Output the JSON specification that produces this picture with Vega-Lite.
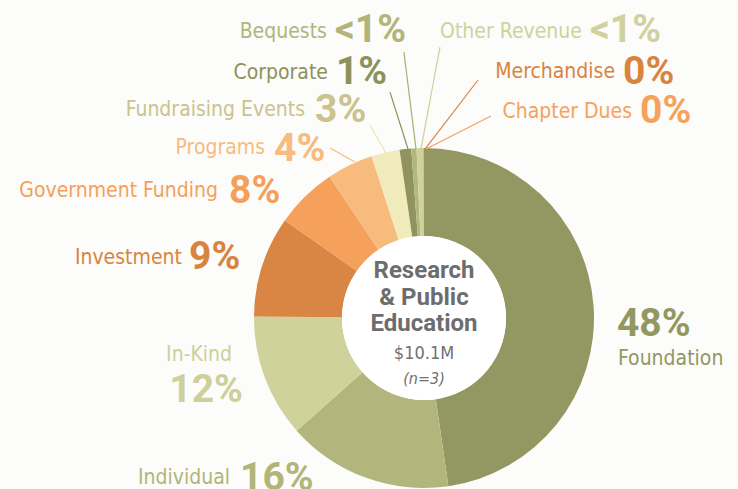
{
  "$schema": "https://vega.github.io/schema/vega-lite/v6.json",
  "width": 738,
  "height": 489,
  "autosize": {"type": "none"},
  "padding": 0,
  "background": "#fcfcfa",
  "config": {"view": {"stroke": null}},
  "datasets": {
    "slices": [
      {"category": "Foundation", "value": 47.8, "rank": 1},
      {"category": "Individual", "value": 15.8, "rank": 2},
      {"category": "In-Kind", "value": 11.7, "rank": 3},
      {"category": "Investment", "value": 9.6, "rank": 4},
      {"category": "Government Funding", "value": 5.9, "rank": 5},
      {"category": "Programs", "value": 4.4, "rank": 6},
      {"category": "Fundraising Events", "value": 2.7, "rank": 7},
      {"category": "Corporate", "value": 1.1, "rank": 8},
      {"category": "Bequests", "value": 0.5, "rank": 9},
      {"category": "Other Revenue", "value": 0.6, "rank": 10},
      {"category": "Merchandise", "value": 0.05, "rank": 11},
      {"category": "Chapter Dues", "value": 0.05, "rank": 12}
    ],
    "leaders": [
      {"category": "Bequests", "x": -11.8, "y": 156.5, "x2": -4.7, "y2": 99.4},
      {"category": "Other Revenue", "x": 9.4, "y": 159.4, "x2": -1.8, "y2": 99.4},
      {"category": "Corporate", "x": -20.0, "y": 132.9, "x2": -9.4, "y2": 99.4},
      {"category": "Fundraising Events", "x": -31.8, "y": 113.5, "x2": -22.4, "y2": 97.1},
      {"category": "Merchandise", "x": 31.8, "y": 140.0, "x2": 0.6, "y2": 99.4},
      {"category": "Chapter Dues", "x": 39.4, "y": 118.8, "x2": 1.2, "y2": 99.4},
      {"category": "Programs", "x": -55.3, "y": 100.0, "x2": -40.6, "y2": 91.8}
    ],
    "texts": [
      {"category": "Bequests", "kind": "name", "anchor": "end", "text": "Bequests", "x": -57.1, "y": 169.4},
      {"category": "Other Revenue", "kind": "name", "anchor": "end", "text": "Other Revenue", "x": 92.9, "y": 169.4},
      {"category": "Corporate", "kind": "name", "anchor": "end", "text": "Corporate", "x": -56.5, "y": 145.3},
      {"category": "Merchandise", "kind": "name", "anchor": "end", "text": "Merchandise", "x": 112.4, "y": 145.6},
      {"category": "Fundraising Events", "kind": "name", "anchor": "end", "text": "Fundraising Events", "x": -70.0, "y": 123.2},
      {"category": "Chapter Dues", "kind": "name", "anchor": "end", "text": "Chapter Dues", "x": 122.4, "y": 122.1},
      {"category": "Programs", "kind": "name", "anchor": "end", "text": "Programs", "x": -93.5, "y": 100.9},
      {"category": "Government Funding", "kind": "name", "anchor": "end", "text": "Government Funding", "x": -121.2, "y": 75.9},
      {"category": "Investment", "kind": "name", "anchor": "end", "text": "Investment", "x": -142.4, "y": 36.2},
      {"category": "In-Kind", "kind": "name", "anchor": "end", "text": "In-Kind", "x": -112.9, "y": -20.9},
      {"category": "Individual", "kind": "name", "anchor": "end", "text": "Individual", "x": -114.1, "y": -93.2},
      {"category": "Foundation", "kind": "name", "anchor": "start", "text": "Foundation", "x": 114.1, "y": -23.2},
      {"category": "Bequests", "kind": "pct", "anchor": "start", "text": "<1%", "x": -52.4, "y": 170.6},
      {"category": "Other Revenue", "kind": "pct", "anchor": "start", "text": "<1%", "x": 97.6, "y": 170.6},
      {"category": "Corporate", "kind": "pct", "anchor": "start", "text": "1%", "x": -51.8, "y": 145.9},
      {"category": "Merchandise", "kind": "pct", "anchor": "start", "text": "0%", "x": 117.1, "y": 145.9},
      {"category": "Fundraising Events", "kind": "pct", "anchor": "start", "text": "3%", "x": -64.1, "y": 123.8},
      {"category": "Chapter Dues", "kind": "pct", "anchor": "start", "text": "0%", "x": 127.1, "y": 122.9},
      {"category": "Programs", "kind": "pct", "anchor": "start", "text": "4%", "x": -88.2, "y": 100.3},
      {"category": "Government Funding", "kind": "pct", "anchor": "start", "text": "8%", "x": -114.7, "y": 75.9},
      {"category": "Investment", "kind": "pct", "anchor": "start", "text": "9%", "x": -138.2, "y": 37.1},
      {"category": "Individual", "kind": "pct", "anchor": "start", "text": "16%", "x": -108.2, "y": -93.2},
      {"category": "Foundation", "kind": "pct", "anchor": "start", "text": "48%", "x": 113.5, "y": -2.6},
      {"category": "In-Kind", "kind": "pct", "anchor": "end", "text": "12%", "x": -106.5, "y": -40.9}
    ],
    "center": [
      {"style": "bold", "text": "Research", "x": 0, "y": 28.8},
      {"style": "bold", "text": "& Public", "x": 0, "y": 12.6},
      {"style": "bold", "text": "Education", "x": 0, "y": -2.6},
      {"style": "amount", "text": "$10.1M", "x": 0, "y": -20.0},
      {"style": "count", "text": "(n=3)", "x": 0, "y": -35.6}
    ]
  },
  "layer": [
    {
      "data": {"name": "slices"},
      "mark": {"type": "arc", "radius": 170, "radius2": 82},
      "encoding": {
        "x": {"datum": 0, "type": "quantitative", "scale": {"domain": [-249.41, 184.71], "nice": false, "zero": false}, "axis": null},
        "y": {"datum": 0, "type": "quantitative", "scale": {"domain": [-100.59, 187.06], "nice": false, "zero": false}, "axis": null},
        "theta": {"field": "value", "type": "quantitative", "stack": true},
        "order": {"field": "rank", "type": "quantitative"},
        "color": {
          "field": "category", "type": "nominal", "legend": null,
          "scale": {
            "domain": ["Foundation", "Individual", "In-Kind", "Investment", "Government Funding", "Programs", "Fundraising Events", "Corporate", "Bequests", "Other Revenue", "Merchandise", "Chapter Dues"],
            "range": ["#939862", "#b3b67c", "#d0d29b", "#d98544", "#f5a05b", "#f8bb7e", "#f1ebbb", "#8f945e", "#b3b77c", "#cfd29b", "#d98544", "#f5a05b"]
          }
        }
      }
    },
    {
      "data": {"values": [{"part": "hole"}]},
      "mark": {"type": "arc", "radius": 82, "theta": 0, "theta2": 6.2832, "fill": "#ffffff"},
      "encoding": {
        "x": {"datum": 0, "type": "quantitative", "axis": null},
        "y": {"datum": 0, "type": "quantitative", "axis": null}
      }
    },
    {
      "data": {"name": "leaders"},
      "mark": {"type": "rule", "strokeWidth": 1.2},
      "encoding": {
        "x": {"field": "x", "type": "quantitative", "axis": null},
        "y": {"field": "y", "type": "quantitative", "axis": null},
        "x2": {"field": "x2"},
        "y2": {"field": "y2"},
        "stroke": {
          "field": "category", "type": "nominal", "legend": null,
          "scale": {
            "domain": ["Bequests", "Other Revenue", "Corporate", "Fundraising Events", "Merchandise", "Chapter Dues", "Programs"],
            "range": ["#a9ae72", "#cdd09a", "#8c925a", "#ece5b2", "#d98544", "#f5a05b", "#f8bb7e"]
          }
        }
      }
    },
    {
      "data": {"name": "texts"},
      "transform": [{"filter": "datum.kind === 'name' && datum.anchor === 'end'"}],
      "mark": {"type": "text", "align": "right", "baseline": "alphabetic", "dy": 7.7, "font": "DejaVu Sans Condensed", "fontSize": 21},
      "encoding": {
        "x": {"field": "x", "type": "quantitative", "axis": null},
        "y": {"field": "y", "type": "quantitative", "axis": null},
        "text": {"field": "text"},
        "fill": {
          "field": "category", "type": "nominal", "legend": null,
          "scale": {
            "domain": ["Foundation", "Individual", "In-Kind", "Investment", "Government Funding", "Programs", "Fundraising Events", "Corporate", "Bequests", "Other Revenue", "Merchandise", "Chapter Dues"],
            "range": ["#929860", "#b1b57a", "#cdd09a", "#d8843f", "#f5a05a", "#f8bb7d", "#cac38e", "#8c925a", "#b1b57a", "#cfd29c", "#d8843f", "#f6a25c"]
          }
        }
      }
    },
    {
      "data": {"name": "texts"},
      "transform": [{"filter": "datum.kind === 'name' && datum.anchor === 'start'"}],
      "mark": {"type": "text", "align": "left", "baseline": "alphabetic", "dy": 7.7, "font": "DejaVu Sans Condensed", "fontSize": 21},
      "encoding": {
        "x": {"field": "x", "type": "quantitative", "axis": null},
        "y": {"field": "y", "type": "quantitative", "axis": null},
        "text": {"field": "text"},
        "fill": {"field": "category", "type": "nominal", "legend": null}
      }
    },
    {
      "data": {"name": "texts"},
      "transform": [{"filter": "datum.kind === 'pct' && datum.anchor === 'start'"}],
      "mark": {"type": "text", "align": "left", "baseline": "alphabetic", "dy": 14, "font": "Roboto", "fontWeight": "bold", "fontSize": 39},
      "encoding": {
        "x": {"field": "x", "type": "quantitative", "axis": null},
        "y": {"field": "y", "type": "quantitative", "axis": null},
        "text": {"field": "text"},
        "fill": {"field": "category", "type": "nominal", "legend": null}
      }
    },
    {
      "data": {"name": "texts"},
      "transform": [{"filter": "datum.kind === 'pct' && datum.anchor === 'end'"}],
      "mark": {"type": "text", "align": "right", "baseline": "alphabetic", "dy": 14, "font": "Roboto", "fontWeight": "bold", "fontSize": 39},
      "encoding": {
        "x": {"field": "x", "type": "quantitative", "axis": null},
        "y": {"field": "y", "type": "quantitative", "axis": null},
        "text": {"field": "text"},
        "fill": {"field": "category", "type": "nominal", "legend": null}
      }
    },
    {
      "data": {"name": "center"},
      "transform": [{"filter": "datum.style === 'bold'"}],
      "mark": {"type": "text", "align": "center", "baseline": "alphabetic", "dy": 8.5, "font": "Roboto", "fontWeight": "bold", "fontSize": 24, "color": "#6d6d6d"},
      "encoding": {
        "x": {"field": "x", "type": "quantitative", "axis": null},
        "y": {"field": "y", "type": "quantitative", "axis": null},
        "text": {"field": "text"}
      }
    },
    {
      "data": {"name": "center"},
      "transform": [{"filter": "datum.style === 'amount'"}],
      "mark": {"type": "text", "align": "center", "baseline": "alphabetic", "dy": 6.6, "font": "DejaVu Sans Condensed", "fontSize": 18, "color": "#707070"},
      "encoding": {
        "x": {"field": "x", "type": "quantitative", "axis": null},
        "y": {"field": "y", "type": "quantitative", "axis": null},
        "text": {"field": "text"}
      }
    },
    {
      "data": {"name": "center"},
      "transform": [{"filter": "datum.style === 'count'"}],
      "mark": {"type": "text", "align": "center", "baseline": "alphabetic", "dy": 5.8, "font": "DejaVu Sans Condensed", "fontStyle": "italic", "fontSize": 16, "color": "#707070"},
      "encoding": {
        "x": {"field": "x", "type": "quantitative", "axis": null},
        "y": {"field": "y", "type": "quantitative", "axis": null},
        "text": {"field": "text"}
      }
    }
  ]
}
